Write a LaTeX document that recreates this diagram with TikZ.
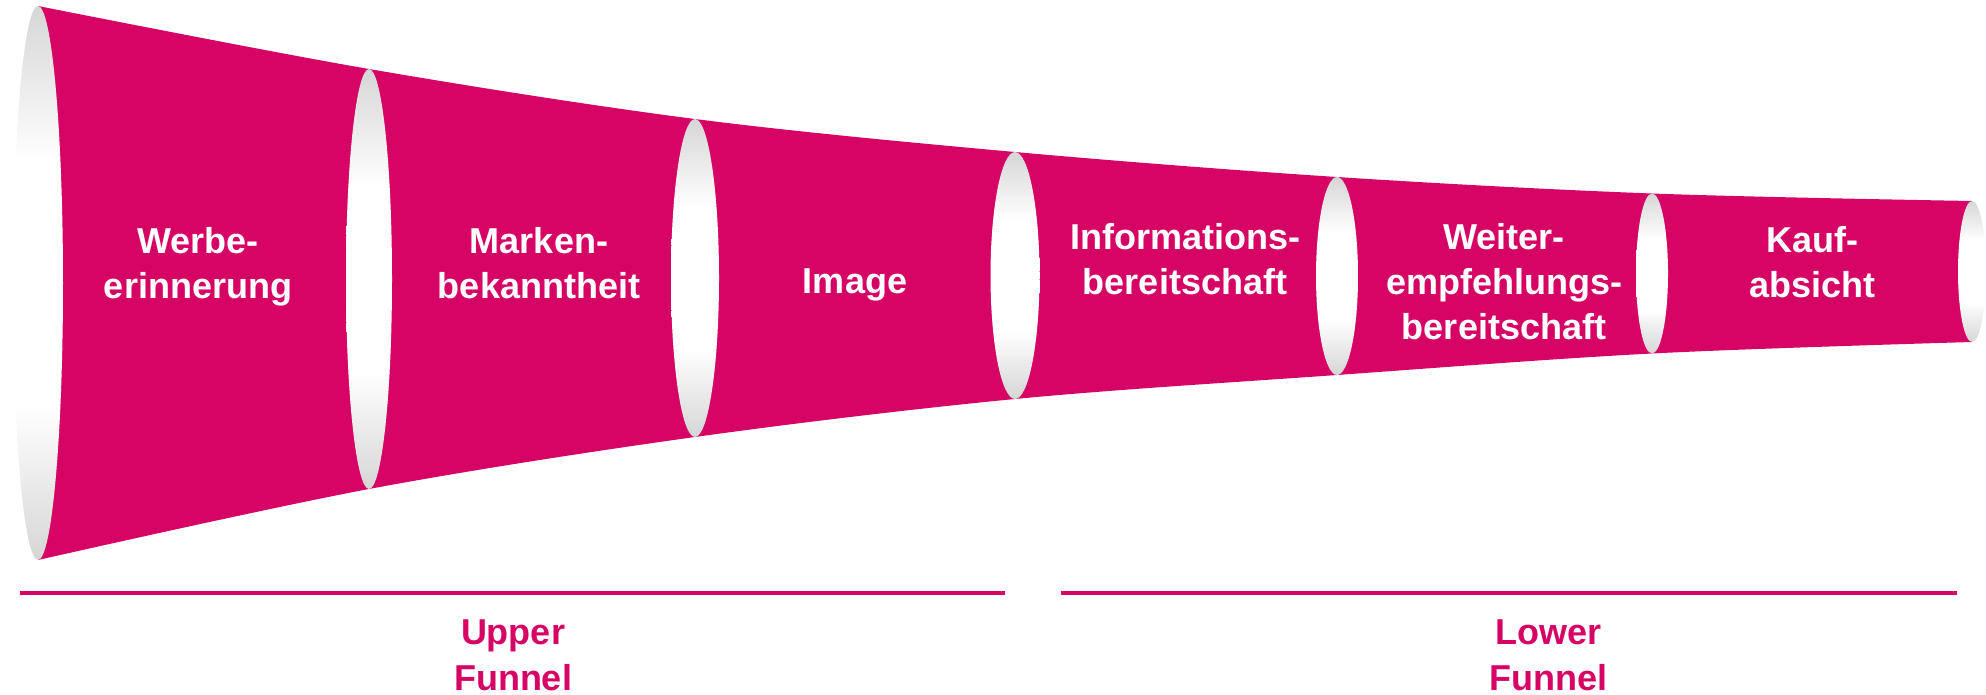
\documentclass[tikz,border=0pt]{standalone}
\usepackage{fontspec}
\setmainfont{Liberation Sans}
\usetikzlibrary{shapes.geometric,backgrounds}
\definecolor{funnelmag}{RGB}{214,4,100}
\definecolor{lensgray}{RGB}{214,214,214}
% grey at the rim of each opening, white across its middle
\pgfdeclareverticalshading{lensgrad}{100bp}{color(0bp)=(lensgray); color(25bp)=(lensgray); color(39bp)=(white); color(61bp)=(white); color(75bp)=(lensgray); color(100bp)=(lensgray)}
\begin{document}
\begin{tikzpicture}[x=1pt,y=-1pt,
  lens/.style={ellipse, draw=none, shade, shading=lensgrad, inner sep=0pt, outer sep=0pt},
  stage/.style={text=white, font=\fontsize{36}{45}\selectfont\bfseries, align=center, inner sep=0pt},
  phase/.style={text=funnelmag, font=\fontsize{36}{46}\selectfont\bfseries, align=center, inner sep=0pt},
  phaserule/.style={draw=funnelmag, line width=4pt}]
\useasboundingbox (0,0) rectangle (1986,695);

% openings between the funnel sections
\node[lens, minimum width=50pt, minimum height=554pt] (e1) at (38,283) {};
\node[lens, minimum width=46pt, minimum height=420pt] (e2) at (369,279) {};
\node[lens, minimum width=48pt, minimum height=318pt] (e3) at (695,278) {};
\node[lens, minimum width=49pt, minimum height=247pt] (e4) at (1015,275.5) {};
\node[lens, minimum width=42pt, minimum height=198pt] (e5) at (1337,276) {};
\node[lens, minimum width=32pt, minimum height=160pt] (e6) at (1652,273.5) {};
\node[lens, minimum width=28pt, minimum height=141pt] (e7) at (1972,271.5) {};

% funnel body behind the openings
\begin{pgfonlayer}{background}
\fill[funnelmag]
  plot[smooth, tension=0.55] coordinates {(e1.north) (e2.north) (e3.north) (e4.north) (e5.north) (e6.north) (e7.north)}
  -- plot[smooth, tension=0.55] coordinates {(e7.south) (e6.south) (e5.south) (e4.south) (e3.south) (e2.south) (e1.south)}
  -- cycle;
\end{pgfonlayer}

% stage labels
\node[stage] (s1) at (198,267) {Werbe-\\erinnerung};
\node[stage] (s2) at (539,263) {Marken-\\bekanntheit};
\node[stage] (s3) at (855,285) {Image};
\node[stage] (s4) at (1185,259) {Informations-\\bereitschaft};
\node[stage] (s5) at (1504,282) {Weiter-\\empfehlungs-\\bereitschaft};
\node[stage] (s6) at (1812,262) {Kauf-\\absicht};

% phase rules and labels
\coordinate (u1) at (20,593);
\coordinate (u2) at (1005,593);
\coordinate (l1) at (1061,593);
\coordinate (l2) at (1957,593);
\draw[phaserule] (u1) -- (u2);
\draw[phaserule] (l1) -- (l2);
\node[phase] (upper) at (513,655.5) {Upper\\Funnel};
\node[phase] (lower) at (1548,655.5) {Lower\\Funnel};
\end{tikzpicture}
\end{document}
